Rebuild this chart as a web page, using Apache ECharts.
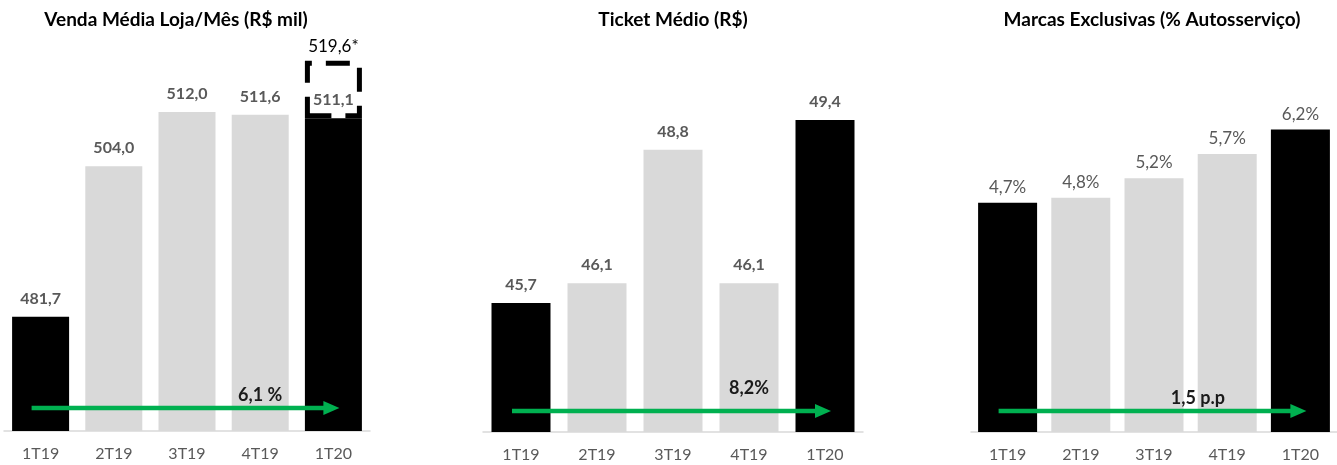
<!DOCTYPE html>
<html>
<head>
<meta charset="utf-8">
<script src="https://cdn.jsdelivr.net/npm/echarts@6/dist/echarts.min.js"></script>
<style>
  html, body { margin: 0; padding: 0; background: #fff; }
  #chart { width: 1337px; height: 465px; }
</style>
</head>
<body>
<div id="chart"></div>
<script>
// Quarterly indicators
const quarters = ['1T19', '2T19', '3T19', '4T19', '1T20'];
const vendaMedia = [481.7, 504.0, 512.0, 511.6, 511.1];   // R$ mil
const vendaAjustada = 519.6;                              // adjusted 1T20 figure
const ticketMedio = [45.7, 46.1, 48.8, 46.1, 49.4];       // R$
const marcasExclusivas = [4.7, 4.8, 5.2, 5.7, 6.2];       // % autosserviço
const titles = ['Venda Média Loja/Mês (R$ mil)', 'Ticket Médio (R$)', 'Marcas Exclusivas (% Autosserviço)'];
const growthLabels = ['6,1 %', '8,2%', '1,5 p.p'];

const FONT = 'Lato, "Open Sans", sans-serif';
const GREEN = '#00B050';
const GREY_BAR = '#D9D9D9';
const TEXT_GREY = '#595959';

const fmt = v => v.toFixed(1).replace('.', ',');
const pct = v => fmt(v) + '%';

// first and last quarter highlighted in black
const colorFor = i => (i === 0 || i === quarters.length - 1) ? '#000000' : GREY_BAR;
const styled = arr => arr.map((v, i) => ({ value: v, itemStyle: { color: colorFor(i) } }));

const grids = [
  { left: 4,   top: 31, width: 366, height: 400 },
  { left: 483, top: 32, width: 380, height: 400 },
  { left: 971, top: 32, width: 372, height: 400 }
];
const yRanges = [[464.8, 524.0], [43.09, 51.18], [0, 8.2]];
const barWidths = [57, 59, 59];
const titleCenters = [176, 673, 1152];

const chart = echarts.init(document.getElementById('chart'));

const xAxes = grids.map((g, i) => ({
  type: 'category', gridIndex: i, data: quarters,
  axisLine: { lineStyle: { color: '#D9D9D9', width: 1.5 } },
  axisTick: { show: false },
  axisLabel: { color: TEXT_GREY, fontFamily: FONT, fontSize: 16, margin: 15 }
}));
const yAxes = grids.map((g, i) => ({
  type: 'value', gridIndex: i, show: false,
  min: yRanges[i][0], max: yRanges[i][1], splitLine: { show: false }
}));

const boldLabel = (formatter) => ({
  show: true, position: 'top', distance: 10, formatter: p => formatter(p.value),
  color: TEXT_GREY, fontFamily: FONT, fontSize: 16, fontWeight: 'bold'
});

const series = [
  {
    type: 'bar', xAxisIndex: 0, yAxisIndex: 0, stack: 'venda', barWidth: barWidths[0],
    data: styled(vendaMedia), label: boldLabel(fmt), z: 3
  },
  {
    // dashed outline showing the adjusted 1T20 value
    type: 'bar', xAxisIndex: 0, yAxisIndex: 0, stack: 'venda', barWidth: barWidths[0],
    data: quarters.map((q, i) => i === quarters.length - 1
      ? +(vendaAjustada - vendaMedia[i]).toFixed(1) : null),
    itemStyle: { color: 'rgba(0,0,0,0)', borderColor: '#000', borderWidth: 5, borderType: [24, 14] },
    label: {
      show: true, position: 'top', distance: 6, formatter: () => fmt(vendaAjustada) + '*',
      color: '#000', fontFamily: FONT, fontSize: 17
    },
    z: 2
  },
  {
    type: 'bar', xAxisIndex: 1, yAxisIndex: 1, barWidth: barWidths[1],
    data: styled(ticketMedio), label: boldLabel(fmt)
  },
  {
    type: 'bar', xAxisIndex: 2, yAxisIndex: 2, barWidth: barWidths[2],
    data: styled(marcasExclusivas),
    label: {
      show: true, position: 'top', distance: 7, formatter: p => pct(p.value),
      color: TEXT_GREY, fontFamily: FONT, fontSize: 17
    }
  }
];

chart.setOption({
  animation: false,
  grid: grids,
  xAxis: xAxes,
  yAxis: yAxes,
  series: series
});

const graphics = [];

// panel titles
titles.forEach((t, i) => {
  graphics.push({
    type: 'text', x: titleCenters[i], y: 20,
    style: {
      text: t, fill: '#000', font: 'bold 19px ' + FONT,
      textAlign: 'center', textVerticalAlign: 'middle'
    }
  });
});

// growth arrows from first to last quarter, with their captions
const arrowLift = [23, 21, 21];
const captionLift = [13, 23, 13];
const captionAt = [3, 3, 2.6];   // position along the category axis
grids.forEach((g, i) => {
  const base = g.top + g.height;
  const first = chart.convertToPixel({ gridIndex: i }, [0, yRanges[i][0]])[0];
  const last = chart.convertToPixel({ gridIndex: i }, [quarters.length - 1, yRanges[i][0]])[0];
  const step = (last - first) / (quarters.length - 1);
  const x0 = first - 9, x1 = last + 6, y = base - arrowLift[i];
  graphics.push({
    type: 'line', shape: { x1: x0, y1: y, x2: x1 - 12, y2: y },
    style: { stroke: GREEN, lineWidth: 4.5 }, z: 10
  });
  graphics.push({
    type: 'polygon', shape: { points: [[x1 - 16, y - 7], [x1, y], [x1 - 16, y + 7]] },
    style: { fill: GREEN }, z: 10
  });
  graphics.push({
    type: 'text', x: first + step * captionAt[i], y: y - captionLift[i],
    style: {
      text: growthLabels[i], fill: '#1a1a1a', font: 'bold 18px ' + FONT,
      textAlign: 'center', textVerticalAlign: 'middle'
    }, z: 10
  });
});
chart.setOption({ graphic: graphics });
</script>
</body>
</html>
